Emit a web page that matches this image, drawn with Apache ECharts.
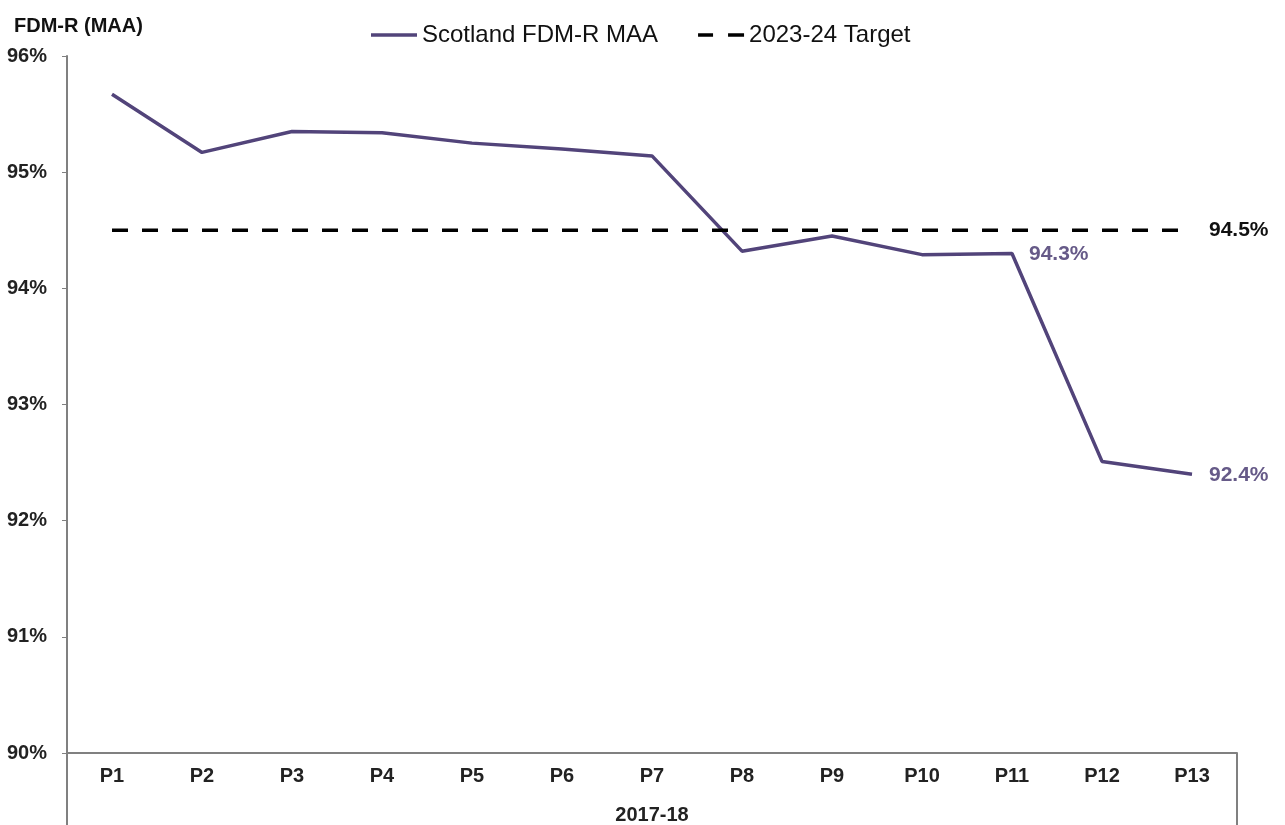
<!DOCTYPE html>
<html><head><meta charset="utf-8">
<script src="https://cdn.jsdelivr.net/npm/echarts@6/dist/echarts.min.js"></script>
<style>html,body{margin:0;padding:0;background:#fff}#c{width:1285px;height:825px}</style>
</head><body><div id="c"></div>
<script>
const categories = ['P1','P2','P3','P4','P5','P6','P7','P8','P9','P10','P11','P12','P13'];
const groupLabels = ['2017-18'];
const scotlandMAA = [95.67, 95.17, 95.35, 95.34, 95.25, 95.20, 95.14, 94.32, 94.45, 94.29, 94.30, 92.51, 92.40];
const target = [94.5, 94.5, 94.5, 94.5, 94.5, 94.5, 94.5, 94.5, 94.5, 94.5, 94.5, 94.5, 94.5];
const labelledPoints = [10, 12];
const yTicks = { min: 90, max: 96, step: 1 };

const FONT = '"Liberation Sans", Arial, sans-serif';
const purple = '#52447a';

const chart = echarts.init(document.getElementById('c'));
const mainData = scotlandMAA.map((v, i) => labelledPoints.includes(i) ? {
  value: v,
  label: {
    show: true, position: 'right', distance: 17, offset: [0, 1],
    formatter: p => p.value.toFixed(1) + '%',
    color: '#665a88', fontSize: 21, fontWeight: 'bold', fontFamily: FONT
  }
} : v);
const targetData = target.map((v, i) => i === target.length - 1 ? {
  value: v,
  label: {
    show: true, position: 'right', distance: 17,
    formatter: p => p.value.toFixed(1) + '%',
    color: '#111', fontSize: 21, fontWeight: 'bold', fontFamily: FONT
  }
} : v);

chart.setOption({
  animation: false,
  backgroundColor: '#fff',
  title: {
    text: 'FDM-R (MAA)', left: 9, top: 11,
    textStyle: { fontFamily: FONT, fontSize: 20, fontWeight: 'bold', color: '#111' }
  },
  legend: {
    top: 18, left: 366, itemWidth: 46, itemGap: 40, itemHeight: 10,
    textStyle: { fontFamily: FONT, fontSize: 24, color: '#111' },
    data: [
      { name: 'Scotland FDM-R MAA', icon: 'path://M0,3.5 L46,3.5 L46,7 L0,7 Z' },
      { name: '2023-24 Target', icon: 'path://M0,3.5 L15,3.5 L15,7 L0,7 Z M30,3.5 L46,3.5 L46,7 L30,7 Z' }
    ]
  },
  grid: { left: 67, right: 48, top: 56, bottom: 72, containLabel: false },
  xAxis: [{
    type: 'category', data: categories, boundaryGap: true,
    axisLine: { show: true, lineStyle: { color: '#808080', width: 2 } },
    axisTick: { show: false },
    axisLabel: { fontFamily: FONT, fontSize: 20, fontWeight: 'bold', color: '#222', margin: 13 }
  }, {
    type: 'category', data: groupLabels, position: 'bottom', boundaryGap: true,
    axisLine: { show: false },
    axisTick: { show: true, length: 75, lineStyle: { color: '#808080', width: 2 } },
    axisLabel: { fontFamily: FONT, fontSize: 20, fontWeight: 'bold', color: '#222', margin: 52 }
  }],
  yAxis: {
    type: 'value', min: yTicks.min, max: yTicks.max, interval: yTicks.step,
    splitLine: { show: false },
    axisLine: { show: true, lineStyle: { color: '#808080', width: 2 } },
    axisTick: { show: true, length: 5, lineStyle: { color: '#808080' } },
    axisLabel: { fontFamily: FONT, fontSize: 20, fontWeight: 'bold', color: '#222', margin: 20, formatter: '{value}%' }
  },
  series: [{
    name: 'Scotland FDM-R MAA', type: 'line', data: mainData,
    showSymbol: true, symbol: 'circle', symbolSize: 0,
    lineStyle: { color: purple, width: 3.5 }, itemStyle: { color: purple }
  }, {
    name: '2023-24 Target', type: 'line', data: targetData,
    showSymbol: true, symbol: 'circle', symbolSize: 0,
    lineStyle: { color: '#000', width: 3.5, type: [16, 14] }, itemStyle: { color: '#000' }
  }]
});
</script></body></html>
